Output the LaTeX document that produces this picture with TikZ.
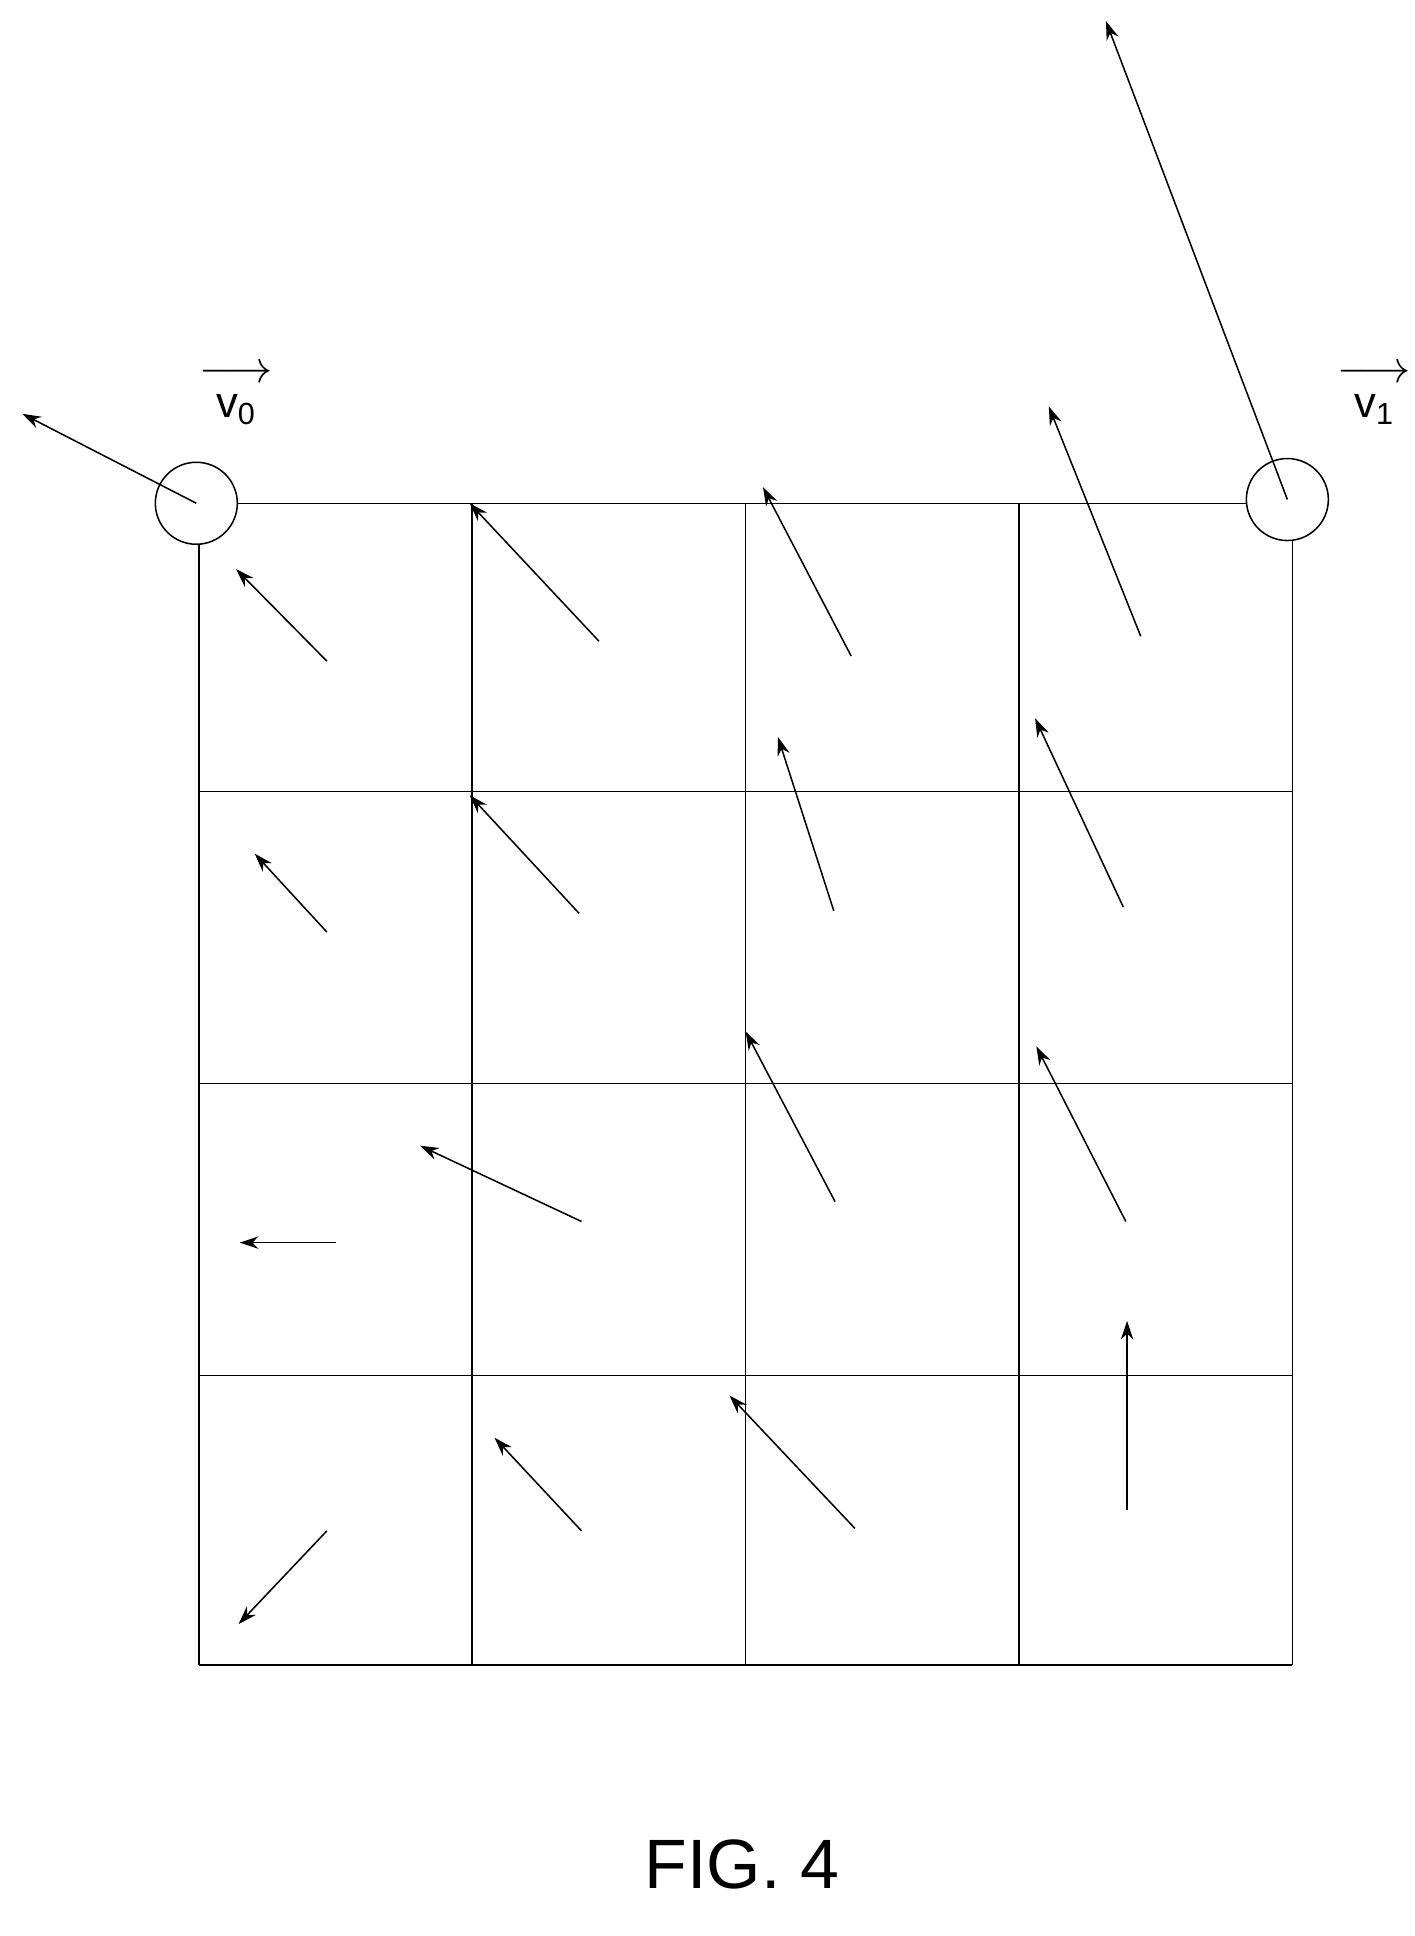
\documentclass[tikz,border=0pt]{standalone}
\usepackage{amsmath}
\usepackage{fontspec}
\setmainfont{Liberation Sans}
\usetikzlibrary{arrows.meta}

\begin{document}
\begin{tikzpicture}[x=0.02cm,y=-0.02cm,>/.tip={Stealth[length=3mm,width=2mm]},
	vec/.style={->,line width=0.7pt},
	vertex/.style={circle,draw,line width=0.7pt,minimum size=1.32cm,inner sep=0pt},
	vlabel/.style={align=center,font=\fontsize{20}{20}\selectfont}]
	\useasboundingbox (0,0) rectangle (1138,1558);
	% grid of cells
	\foreach \x in {160,380,600,820,1040} \draw[line width=0.7pt] (\x,405) -- (\x,1340);
	\foreach \y in {405,637,872,1107,1340} \draw[line width=0.7pt] (160,\y) -- (1040,\y);
	% corner vertices
	\node (c0) [vertex,fill=white] at (158,405) {};
	\node (c1) [vertex,fill=white] at (1036,402) {};
	\coordinate (c0t) at (18,333);
	\coordinate (c1t) at (890,17);
	\draw[vec] (c0.center) -- (c0t);
	\draw[vec] (c1.center) -- (c1t);
	\node (v0) [vlabel] at (190,318) {$\longrightarrow$\\[-4pt]v\textsubscript{0}};
	\node (v1) [vlabel] at (1106,318) {$\longrightarrow$\\[-4pt]v\textsubscript{1}};
	% interpolated vectors
	\foreach \a/\b/\c/\d in {263/532/190/458, 482/516/378/405, 685/528/614/392, 918/512/844/327,
		671/733/626/593, 904/730/833/578, 263/750/205/687, 466/735/378/640,
		672/967/600/830, 906/983/834/842, 468/983/338/922, 270/1000/193/1000,
		263/1232/192/1307, 468/1232/398/1157, 688/1230/587/1123, 907/1215/907/1063}
		\draw[vec] (\a,\b) -- (\c,\d);
	\node (fig) at (597,1500) {\fontsize{32}{38}\selectfont FIG. 4};
\end{tikzpicture}
\end{document}
